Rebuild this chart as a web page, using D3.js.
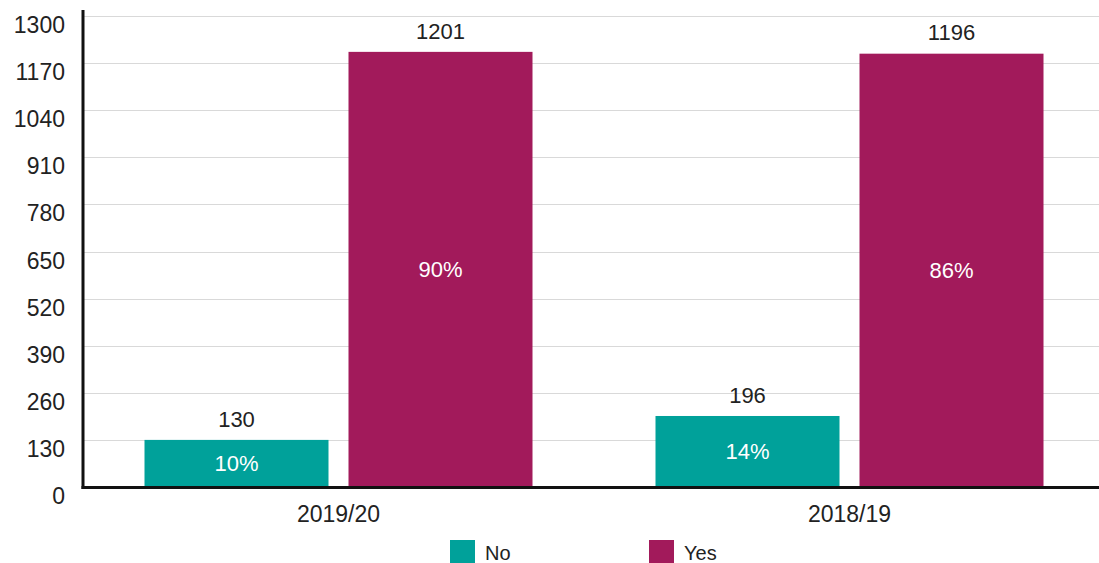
<!DOCTYPE html>
<html>
<head>
<meta charset="utf-8">
<script src="https://cdn.jsdelivr.net/npm/d3@7"></script>
<style>
  body { margin: 0; background: #fff; }
  text { font-family: "Helvetica Neue", Helvetica, "Liberation Sans", Arial, sans-serif; fill: #222; }
</style>
</head>
<body>
<div id="viz"></div>
<script>
const years = ['2019/20', '2018/19'];
const answers = ['No', 'Yes'];
const noValues = [130, 196];
const yesValues = [1201, 1196];
const noShares = ['10%', '14%'];
const yesShares = ['90%', '86%'];
const yTicks = [0, 130, 260, 390, 520, 650, 780, 910, 1040, 1170, 1300];
const colors = ['#00a19a', '#a21a5b'];

const width = 1099;
const height = 563;
const plotLeft = 83;
const plotTop = 16;
const plotBottom = 487;

const svg = d3.select('#viz').append('svg')
  .attr('width', width)
  .attr('height', height);

const yScale = d3.scaleLinear()
  .domain([0, 1300])
  .range([plotBottom, plotTop]);

const xScale = d3.scaleBand()
  .domain(years)
  .range([plotLeft, 1105])
  .paddingInner(0)
  .paddingOuter(0);

// 184px bars, 20px gap, centred in each band
const inner = d3.scaleBand()
  .domain(answers)
  .range([xScale.bandwidth() / 2 - 194, xScale.bandwidth() / 2 + 194])
  .paddingInner(40 / 408)
  .paddingOuter(0);

// gridlines
svg.append('g')
  .selectAll('line')
  .data(yTicks.slice(1))
  .enter()
  .append('line')
  .attr('x1', plotLeft)
  .attr('x2', width)
  .attr('y1', d => Math.round(yScale(d)) + 0.5)
  .attr('y2', d => Math.round(yScale(d)) + 0.5)
  .attr('stroke', '#d9d9d9')
  .attr('stroke-width', 1);

// y tick labels
svg.append('g')
  .selectAll('text')
  .data(yTicks)
  .enter()
  .append('text')
  .attr('x', 65)
  .attr('y', d => yScale(d) + 9)
  .attr('dy', '0.35em')
  .attr('text-anchor', 'end')
  .style('font-size', '23px')
  .text(d => d);

const rows = years.map((y, i) => ({
  year: y,
  bars: [
    { key: 'No', value: noValues[i], share: noShares[i] },
    { key: 'Yes', value: yesValues[i], share: yesShares[i] },
  ],
}));

const groups = svg.selectAll('g.group')
  .data(rows)
  .enter()
  .append('g')
  .attr('class', 'group')
  .attr('transform', d => `translate(${xScale(d.year)},0)`);

groups.selectAll('rect')
  .data(d => d.bars)
  .enter()
  .append('rect')
  .attr('x', d => inner(d.key))
  .attr('width', inner.bandwidth())
  .attr('y', d => yScale(d.value))
  .attr('height', d => yScale(0) - yScale(d.value))
  .attr('fill', (d, i) => colors[i]);

groups.selectAll('text.value')
  .data(d => d.bars)
  .enter()
  .append('text')
  .attr('class', 'value')
  .attr('x', d => inner(d.key) + inner.bandwidth() / 2)
  .attr('y', d => yScale(d.value) - 21)
  .attr('dy', '0.35em')
  .attr('text-anchor', 'middle')
  .style('font-size', '22px')
  .text(d => d.value);

groups.selectAll('text.share')
  .data(d => d.bars)
  .enter()
  .append('text')
  .attr('class', 'share')
  .attr('x', d => inner(d.key) + inner.bandwidth() / 2)
  .attr('y', d => (yScale(d.value) + yScale(0)) / 2)
  .attr('dy', '0.35em')
  .attr('text-anchor', 'middle')
  .style('font-size', '22px')
  .style('fill', '#fff')
  .text(d => d.share);

// category labels
svg.append('g')
  .selectAll('text')
  .data(years)
  .enter()
  .append('text')
  .attr('x', d => xScale(d) + xScale.bandwidth() / 2)
  .attr('y', 514)
  .attr('dy', '0.35em')
  .attr('text-anchor', 'middle')
  .style('font-size', '23px')
  .text(d => d);

// axis lines
svg.append('line')
  .attr('x1', plotLeft)
  .attr('x2', plotLeft)
  .attr('y1', 10)
  .attr('y2', plotBottom + 2)
  .attr('stroke', '#111')
  .attr('stroke-width', 3);

svg.append('line')
  .attr('x1', plotLeft - 1.5)
  .attr('x2', width)
  .attr('y1', plotBottom + 0.5)
  .attr('y2', plotBottom + 0.5)
  .attr('stroke', '#111')
  .attr('stroke-width', 3);

// legend
const legendX = [450, 649];
const legend = svg.append('g')
  .selectAll('g')
  .data(answers)
  .enter()
  .append('g')
  .attr('transform', (d, i) => `translate(${legendX[i]},540)`);

legend.append('rect')
  .attr('width', 25)
  .attr('height', 23)
  .attr('fill', (d, i) => colors[i]);

legend.append('text')
  .attr('x', 35)
  .attr('y', 13)
  .attr('dy', '0.35em')
  .style('font-size', '20px')
  .text(d => d);
</script>
</body>
</html>
